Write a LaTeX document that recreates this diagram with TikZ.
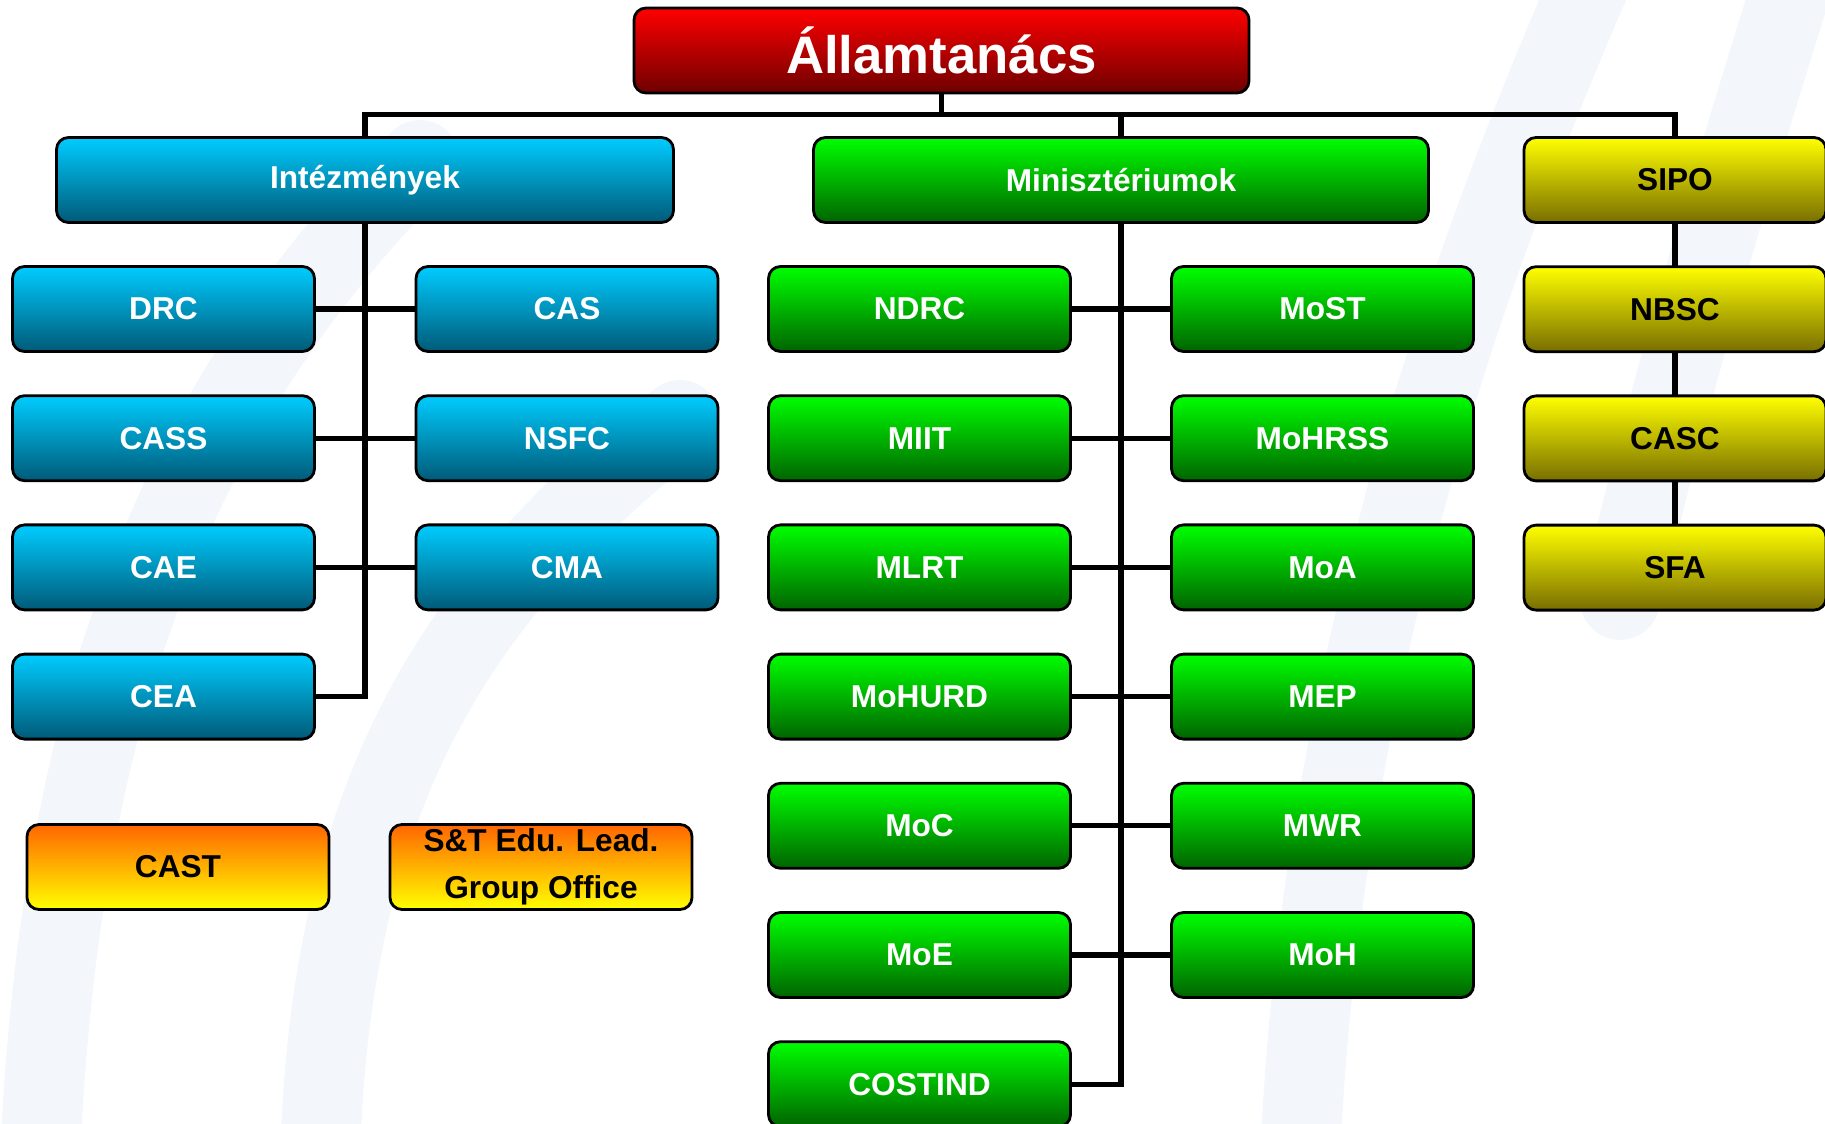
\documentclass[tikz,border=0pt]{standalone}
\usepackage{fontspec}
\setmainfont{Liberation Sans}
\usepackage{xcolor}
\usetikzlibrary{calc}
\usetikzlibrary{positioning}

\definecolor{redtop}{RGB}{255,0,0}
\definecolor{redbot}{RGB}{110,0,0}
\definecolor{bluetop}{RGB}{0,204,255}
\definecolor{bluebot}{RGB}{0,90,120}
\definecolor{greentop}{RGB}{0,255,0}
\definecolor{greenbot}{RGB}{0,100,0}
\definecolor{yellowtop}{RGB}{255,255,0}
\definecolor{yellowbot}{RGB}{120,110,0}
\definecolor{orangetop}{RGB}{255,102,0}
\definecolor{swooshblue}{RGB}{243,247,251}

\begin{document}
\begin{tikzpicture}[
    font = \bfseries\fontsize{9}{13.3}\selectfont,
    box/.style = {
      rectangle,
      draw=black,
      line width=0.8pt,
      rounded corners=1.2mm,
      minimum width=3.02cm,
      minimum height=0.85cm,
      inner sep=0pt,
      outer sep=0pt,
      align=center
    },
    allamf/.style = {
      box,
      top color=redtop,
      bottom color=redbot,
      text=white,
      minimum width=6.15cm,
      font=\bfseries\fontsize{15}{18}\selectfont
    },
    intf/.style = {
      box,
      top color=bluetop,
      bottom color=bluebot,
      text=white
    },
    minf/.style = {
      box,
      top color=greentop,
      bottom color=greenbot,
      text=white
    },
    sipof/.style = {
      box,
      top color=yellowtop,
      bottom color=yellowbot,
      text=black
    },
    castf/.style = {
      box,
      top color=orangetop,
      bottom color=yellowtop,
      text=black
    },
    conn/.style = {
      line width=1.5pt,
      black
    },
    swoosh/.style = {
      line width=8mm,
      swooshblue,
      line cap=round
    }
  ]
    \useasboundingbox (0,0) rectangle (18.25,-11.24);

    % faint background
    \draw[swoosh] (0.4,-11.6) .. controls (0.6,-7) and (1.8,-4) .. (4.2,-1.6);
    \draw[swoosh] (3.2,-11.6) .. controls (3.3,-8) and (4.5,-6) .. (6.8,-4.2);
    \draw[swoosh] (13.0,-11.6) .. controls (13.2,-7) and (14.5,-3) .. (16.0,0.4);
    \draw[swoosh] (16.2,-6.0) .. controls (16.8,-3.5) and (17.4,-1.5) .. (18.0,0.4);

    \node[allamf] (allam) at (9.415,-0.505) {Államtanács};

    \node[intf, minimum width=6.17cm] (intez) at (3.65,-1.80) {Intézmények};
    \node[minf, minimum width=6.15cm] (miniszt) at (11.21,-1.80) {Minisztériumok};
    \node[sipof] (sipo) at (16.75,-1.80) {SIPO};

    % intezmenyek
    \node[intf] (drc) at (1.635,-3.09) {DRC};
    \node[intf] (cas) [right=1.015cm of drc] {CAS};
    \node[intf] (cass) [below=4.42mm of drc] {CASS};
    \node[intf] (nsfc) [right=1.015cm of cass] {NSFC};
    \node[intf] (cae) [below=4.42mm of cass] {CAE};
    \node[intf] (cma) [right=1.015cm of cae] {CMA};
    \node[intf] (cea) [below=4.42mm of cae] {CEA};

    \node[castf] (cast) at (1.78,-8.67) {CAST};
    \node[castf] (stedu) [right=6.1mm of cast] {S\&T Edu. Lead.\\Group Office};

    % miniszteriumok
    \node[minf] (ndrc) at (9.195,-3.09) {NDRC};
    \node[minf] (most) [right=1.01cm of ndrc] {MoST};
    \node[minf] (miit) [below=4.42mm of ndrc] {MIIT};
    \node[minf] (mohrss) [right=1.01cm of miit] {MoHRSS};
    \node[minf] (mlrt) [below=4.42mm of miit] {MLRT};
    \node[minf] (moa) [right=1.01cm of mlrt] {MoA};
    \node[minf] (mohurd) [below=4.42mm of mlrt] {MoHURD};
    \node[minf] (mep) [right=1.01cm of mohurd] {MEP};
    \node[minf] (moc) [below=4.42mm of mohurd] {MoC};
    \node[minf] (mwr) [right=1.01cm of moc] {MWR};
    \node[minf] (moe) [below=4.42mm of moc] {MoE};
    \node[minf] (moh) [right=1.01cm of moe] {MoH};
    \node[minf] (costind) [below=4.42mm of moe] {COSTIND};

    % sipo
    \node[sipof] (nbsc) [below=4.42mm of sipo] {NBSC};
    \node[sipof] (casc) [below=4.42mm of nbsc] {CASC};
    \node[sipof] (sfa) [below=4.42mm of casc] {SFA};

    \coordinate (bus) at ($(allam.south)+(0,-0.215)$);
    \draw[conn] (allam.south) -- (bus);
    \draw[conn] (intez.north) |- (bus) -| (sipo.north);
    \draw[conn] (miniszt.north) -- (miniszt.north |- bus);

    \draw[conn] (intez.south) |- (cea.east);
    \draw[conn] (drc.east) -- (cas.west);
    \draw[conn] (cass.east) -- (nsfc.west);
    \draw[conn] (cae.east) -- (cma.west);

    \draw[conn] (miniszt.south) |- (costind.east);
    \draw[conn] (ndrc.east) -- (most.west);
    \draw[conn] (miit.east) -- (mohrss.west);
    \draw[conn] (mlrt.east) -- (moa.west);
    \draw[conn] (mohurd.east) -- (mep.west);
    \draw[conn] (moc.east) -- (mwr.west);
    \draw[conn] (moe.east) -- (moh.west);

    \draw[conn] (sipo.south) -- (nbsc.north);
    \draw[conn] (nbsc.south) -- (casc.north);
    \draw[conn] (casc.south) -- (sfa.north);

  \end{tikzpicture}
\end{document}
